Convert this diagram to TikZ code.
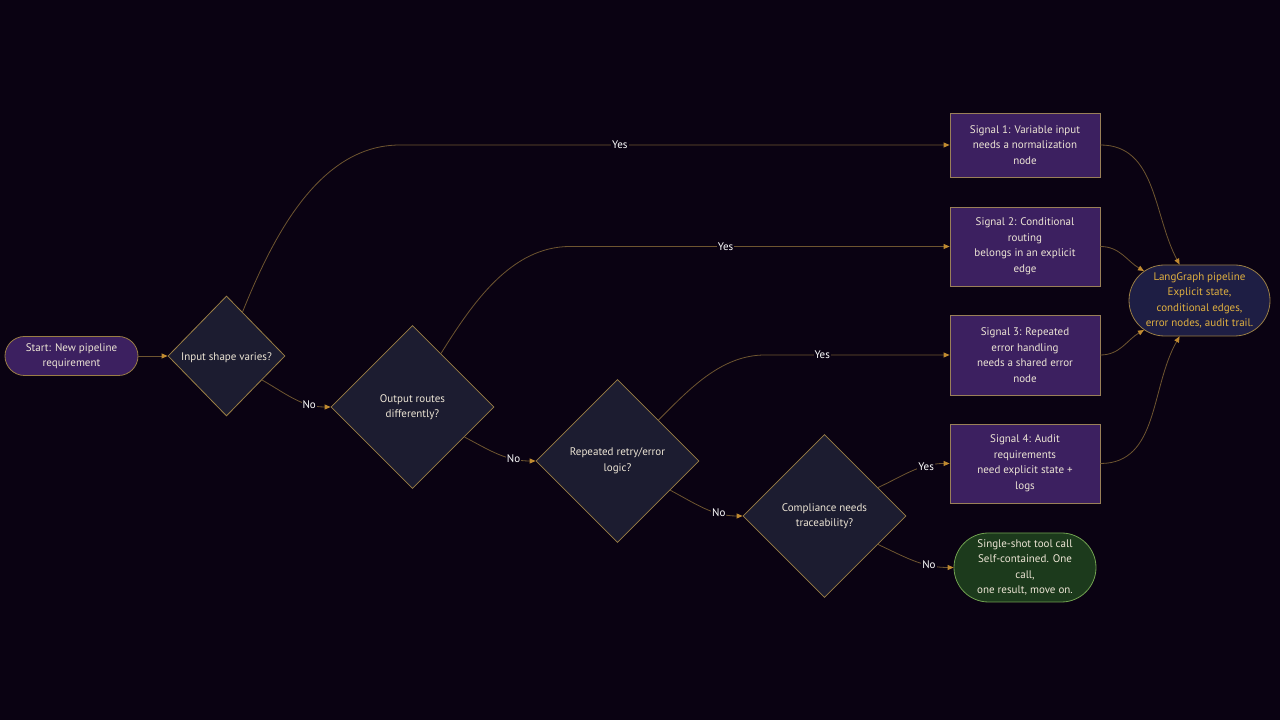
\documentclass[tikz,border=0pt]{standalone}
\usepackage{fontspec}
\setmainfont{PT Sans}
\usetikzlibrary{shapes.geometric,shapes.misc,arrows.meta}
\definecolor{bg}{HTML}{0A0212}
\definecolor{dfill}{HTML}{1C1C30}
\definecolor{dborder}{HTML}{9A7E45}
\definecolor{bfill}{HTML}{3C2060}
\definecolor{bborder}{HTML}{9A8058}
\definecolor{edgec}{HTML}{6E5530}
\definecolor{arrowc}{HTML}{C08A30}
\definecolor{lgfill}{HTML}{1E1E44}
\definecolor{lgtext}{HTML}{E0B040}
\definecolor{gfill}{HTML}{1C3A1C}
\definecolor{gborder}{HTML}{70A050}
\definecolor{txt}{HTML}{EDE5D5}
\tikzset{
  base/.style={font=\fontsize{11}{15.5}\selectfont, text=txt, align=center, line width=0.8pt, inner sep=0pt,
    execute at begin node={\rule{0pt}{12pt}}},
  decision/.style={base, diamond, fill=dfill, draw=dborder},
  sigbox/.style={base, rectangle, fill=bfill, draw=bborder, minimum width=150pt},
  stadium/.style={base, rounded rectangle, rounded rectangle arc length=180},
  edge/.style={draw=edgec, line width=0.8pt, -{Triangle[length=6pt,width=5pt,fill=arrowc,color=arrowc]}},
  lbl/.style={font=\fontsize{11}{13}\selectfont, text=white, fill=bg, inner sep=1pt}
}
\begin{document}
\begin{tikzpicture}[x=1pt,y=1pt]
\fill[bg] (0,0) rectangle (1280,720);
\useasboundingbox (0,0) rectangle (1280,720);

\node[stadium, fill=bfill, draw=dborder, minimum width=133pt, minimum height=39pt] (start) at (71.5,364) {Start: New pipeline\\requirement};
\node[decision, minimum width=117pt, minimum height=120pt] (d1) at (226.5,364) {Input shape varies?};
\node[decision, minimum width=163pt, minimum height=163pt] (d2) at (412.5,313) {Output routes\\differently?};
\node[decision, minimum width=163pt, minimum height=163pt] (d3) at (617.5,259) {Repeated retry/error\\logic?};
\node[decision, minimum width=163pt, minimum height=163pt] (d4) at (824.5,204) {Compliance needs\\traceability?};

\node[sigbox, minimum height=64pt] (s1) at (1025,575) {Signal 1: Variable input\\needs a normalization\\node};
\node[sigbox, minimum height=79pt] (s2) at (1025,473.5) {Signal 2: Conditional\\routing\\belongs in an explicit\\edge};
\node[sigbox, minimum height=80pt] (s3) at (1025,365) {Signal 3: Repeated\\error handling\\needs a shared error\\node};
\node[sigbox, minimum height=79pt] (s4) at (1025,256.5) {Signal 4: Audit\\requirements\\need explicit state +\\logs};

\node[stadium, fill=lgfill, draw=dborder, text=lgtext, minimum width=141pt, minimum height=71pt] (lg) at (1199.5,419.5) {LangGraph pipeline\\Explicit state,\\conditional edges,\\error nodes, audit trail.};
\node[stadium, fill=gfill, draw=gborder, minimum width=142pt, minimum height=69pt] (ss) at (1025,152.5) {Single-shot tool call\\Self-contained. One\\call,\\one result, move on.};

\coordinate (y1) at (400,575);
\coordinate (y2) at (570,473.5);
\coordinate (y3) at (765,365);

\draw[edge] (start.east) -- (d1.west);

\draw[edge] (d1.70) to[out=68,in=180,looseness=0.9] (y1) -- node[lbl,pos=0.4]{Yes} (s1.west);
\draw[edge] (d1.-34) to[out=-30,in=180] node[lbl,pos=0.72]{No} (d2.west);

\draw[edge] (d2.62) to[out=58,in=180,looseness=0.9] (y2) -- node[lbl,pos=0.41]{Yes} (s2.west);
\draw[edge] (d2.-30) to[out=-28,in=180] node[lbl,pos=0.72]{No} (d3.west);

\draw[edge] (d3.45) to[out=45,in=180,looseness=0.9] (y3) -- node[lbl,pos=0.31]{Yes} (s3.west);
\draw[edge] (d3.-29) to[out=-28,in=180] node[lbl,pos=0.70]{No} (d4.west);

\draw[edge] (d4.28) to[out=25,in=180] node[lbl,pos=0.70]{Yes} (s4.west);
\draw[edge] (d4.-28) to[out=-25,in=180] node[lbl,pos=0.70]{No} (ss.west);

\draw[edge] (s1.east) to[out=0,in=118] (lg.119);
\draw[edge] (s2.east) to[out=0,in=150] (lg.152);
\draw[edge] (s3.east) to[out=0,in=210] (lg.208);
\draw[edge] (s4.east) to[out=0,in=240] (lg.241);
\end{tikzpicture}
\end{document}
